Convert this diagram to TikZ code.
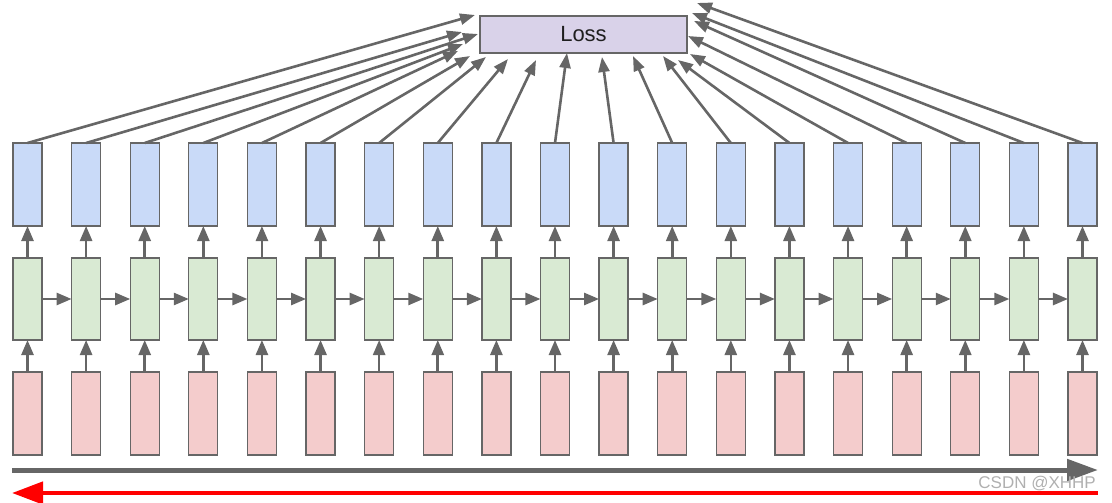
\documentclass[tikz,border=0pt]{standalone}
\usepackage{fontspec}
\setmainfont{Liberation Sans}
\usetikzlibrary{arrows.meta}
\definecolor{bluefill}{HTML}{C9DAF8}
\definecolor{greenfill}{HTML}{D9EAD3}
\definecolor{redfill}{HTML}{F4CCCC}
\definecolor{lossfill}{HTML}{D9D2E9}
\definecolor{edgegray}{HTML}{666666}
\definecolor{arrowgray}{HTML}{666666}
\definecolor{wmgray}{HTML}{B0B0B0}
\begin{document}
\begin{tikzpicture}[x=1pt,y=-1pt,
  cell/.style={draw=edgegray, line width=1.3pt, minimum width=29pt, minimum height=83pt, inner sep=0pt, outer sep=0pt},
  bluecell/.style={cell, fill=bluefill},
  greencell/.style={cell, fill=greenfill, minimum height=82pt},
  redcell/.style={cell, fill=redfill},
  lossbox/.style={draw=edgegray, line width=1.3pt, fill=lossfill, minimum width=207pt, minimum height=37pt, inner sep=0pt, outer sep=0pt, text=black!88, font=\fontsize{22}{22}\selectfont},
  conn/.style={draw=arrowgray, line width=2.6pt, -{Triangle[length=15pt,width=12pt]}},
  lossconn/.style={draw=arrowgray, line width=2.6pt, -{Triangle[length=15pt,width=11pt]}},
  timeline/.style={draw=arrowgray, line width=5pt, -{Triangle[length=31pt,width=21pt]}},
  backline/.style={draw=red, line width=4.5pt, {Triangle[length=31pt,width=22pt]}-},
  watermark/.style={text=wmgray, font=\fontsize{17}{17}\selectfont, inner sep=0pt}
]
\useasboundingbox (0,0) rectangle (1112,503);

\node[lossbox] (loss) at (583.5,34.5) {Loss};

\foreach \i in {0,...,18} {
  \pgfmathsetmacro\cx{27.5+58.61*\i}
  \node[bluecell] (b\i) at (\cx,184.5) {};
  \node[greencell] (g\i) at (\cx,299) {};
  \node[redcell] (r\i) at (\cx,413.5) {};
}

\foreach \i in {0,...,18} {
  \draw[conn] (g\i.north) -- (b\i.south);
  \draw[conn] (r\i.north) -- (g\i.south);
}
\foreach \i [evaluate=\i as \j using int(\i+1)] in {0,...,17} {
  \draw[conn] (g\i.east) -- (g\j.west);
}

\foreach \i/\tx/\ty in {0/475/15, 1/462/32, 2/478/34, 3/463/44, 4/458/51, 5/470/56, 6/486/57, 7/508/59, 8/536/60, 9/567/53, 10/602/57, 11/633/56, 12/663/56, 13/678/60, 14/690/54, 15/688/36, 16/694/21, 17/692/13, 18/697/3} {
  \coordinate (t\i) at (\tx,\ty);
  \draw[lossconn] (b\i.north) -- (t\i);
}

\coordinate (gs) at (12,470);
\coordinate (ge) at (1098,470);
\draw[timeline] (gs) -- (ge);
\coordinate (rs) at (12,493);
\coordinate (re) at (1098,493);
\draw[backline] (rs) -- (re);

\node[watermark, anchor=south east] (wm) at (1096,491) {CSDN @XHHP};
\end{tikzpicture}
\end{document}
